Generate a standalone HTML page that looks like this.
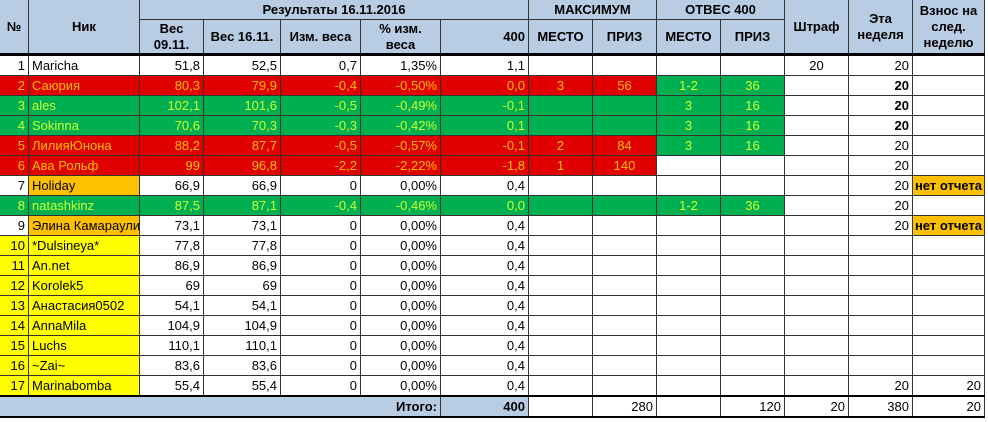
<!DOCTYPE html>
<html><head><meta charset="utf-8"><style>
body{margin:0;width:988px;height:422px;background:#fff;overflow:hidden;font-family:"Liberation Sans","DejaVu Sans",sans-serif;}
#t{position:absolute;left:0;top:0;width:988px;height:422px;}
.c{position:absolute;box-sizing:border-box;border-right:1px solid #333;border-bottom:1px solid #333;font-size:13px;line-height:19px;white-space:nowrap;overflow:hidden;padding:0 3px;}
.h{background:#b8cce4;font-weight:bold;text-align:center;display:flex;align-items:center;justify-content:center;line-height:16px;white-space:normal;}
.r{text-align:right}.l{text-align:left}.m{text-align:center}
</style></head><body>
<div id="t"></div>
<script>
const colX=[0,29,140,204,281,361,441,529,593,657,721,785,849,913,985];
const nums=["1","2","3","4","5","6","7","8","9","10","11","12","13","14","15","16","17"];
const nicks=["Maricha","Саюрия","ales","Sokinna","ЛилияЮнона","Ава Рольф","Holiday","natashkinz","Элина Камараули","*Dulsineya*","An.net","Korolek5","Анастасия0502","AnnaMila","Luchs","~Zai~","Marinabomba"];
const w1=["51,8","80,3","102,1","70,6","88,2","99","66,9","87,5","73,1","77,8","86,9","69","54,1","104,9","110,1","83,6","55,4"];
const w2=["52,5","79,9","101,6","70,3","87,7","96,8","66,9","87,1","73,1","77,8","86,9","69","54,1","104,9","110,1","83,6","55,4"];
const dw=["0,7","-0,4","-0,5","-0,3","-0,5","-2,2","0","-0,4","0","0","0","0","0","0","0","0","0"];
const pw=["1,35%","-0,50%","-0,49%","-0,42%","-0,57%","-2,22%","0,00%","-0,46%","0,00%","0,00%","0,00%","0,00%","0,00%","0,00%","0,00%","0,00%","0,00%"];
const v400=["1,1","0,0","-0,1","0,1","-0,1","-1,8","0,4","0,0","0,4","0,4","0,4","0,4","0,4","0,4","0,4","0,4","0,4"];
const maxPlace=["","3","","","2","1","","","","","","","","","","",""];
const maxPrize=["","56","","","84","140","","","","","","","","","","",""];
const otvPlace=["","1-2","3","3","3","","","1-2","","","","","","","","",""];
const otvPrize=["","36","16","16","16","","","36","","","","","","","","",""];
const fine=["20","","","","","","","","","","","","","","","",""];
const week=["20","20","20","20","20","20","20","20","20","","","","","","","","20"];
const next=["","","","","","","нет отчета","","нет отчета","","","","","","","",""];
const status=["w","r","g","g","r","r","o","g","o","y","y","y","y","y","y","y","y"];
const T=document.getElementById('t');
function cell(x1,x2,y,h,txt,cls,bg,col,name){
 const d=document.createElement('div');
 d.className='c '+cls;
 d.style.left=colX[x1]+'px';d.style.top=y+'px';
 d.style.width=(colX[x2]-colX[x1])+'px';d.style.height=h+'px';
 if(bg)d.style.background=bg;if(col)d.style.color=col;
 d.textContent=txt;
 
 
 T.appendChild(d);return d;
}
const HB='#b8cce4';
cell(0,1,0,55,'№','h',null,null,'header-number');
cell(1,2,0,55,'Ник','h',null,null,'header-nick');
cell(2,7,0,20,'Результаты 16.11.2016','h',null,null,'header-results');
cell(7,9,0,20,'МАКСИМУМ','h',null,null,'header-maximum');
cell(9,11,0,20,'ОТВЕС 400','h',null,null,'header-otves');
cell(11,12,0,55,'Штраф','h',null,null,'header-fine');
cell(12,13,0,55,'Эта неделя','h',null,null,'header-this-week');
cell(13,14,0,55,'Взнос на след. неделю','h',null,null,'header-next-fee');
const sub=['Вес 09.11.','Вес 16.11.','Изм. веса','% изм. веса','400','МЕСТО','ПРИЗ','МЕСТО','ПРИЗ'];
sub.forEach((s,i)=>{const d=cell(2+i,3+i,20,35,s,'h',null,null,'header-sub-'+i);if(i==4){d.style.justifyContent='flex-end';}});
const thick=document.createElement('div');thick.style.cssText='position:absolute;left:0;top:53px;width:985px;height:3px;background:#000';
T.appendChild(thick);
const RED='#e00000',GRN='#00b050',YEL='#ffff00',ORG='#ffc000';
for(let i=0;i<17;i++){
 const y=56+i*20,s=status[i];
 let bg=null,col='#000',bg2=null,col2=null,bg3=null,col3=null;
 if(s=='r'){bg=RED;col=ORG;}
 if(s=='g'){bg=GRN;col='#ccff33';}
 const nb=s=='y'?YEL:bg, nbn=(s=='o'||s=='y')?(s=='o'?ORG:YEL):bg;
 cell(0,1,y,20,nums[i],'r',nb,col,'row-'+(i+1)+'-number');
 cell(1,2,y,20,nicks[i],'l',nbn,col,'row-'+(i+1)+'-nick');
 [w1,w2,dw,pw,v400].forEach((a,j)=>cell(2+j,3+j,y,20,a[i],'r',bg,col,'row-'+(i+1)+'-col'+j));
 cell(7,8,y,20,maxPlace[i],'m',bg,col,'row-'+(i+1)+'-max-place');
 cell(8,9,y,20,maxPrize[i],'m',bg,col,'row-'+(i+1)+'-max-prize');
 const og=otvPlace[i]?GRN:(s=='g'?GRN:null);
 cell(9,10,y,20,otvPlace[i],'m',og,og?'#ccff33':null,'row-'+(i+1)+'-otves-place');
 cell(10,11,y,20,otvPrize[i],'m',og,og?'#ccff33':null,'row-'+(i+1)+'-otves-prize');
 cell(11,12,y,20,fine[i],'m',null,null,'row-'+(i+1)+'-fine');
 const wk=cell(12,13,y,20,week[i],'r',null,null,'row-'+(i+1)+'-week');
 if(i>=1&&i<=3)wk.style.fontWeight='bold';
 const nx=cell(13,14,y,20,next[i],i==16?'r':'m',next[i]?ORG:null,null,'row-'+(i+1)+'-next');
 if(i==16)nx.textContent='20';
 if(next[i]){nx.style.fontWeight='bold';nx.style.padding='0 1px';}
}
const thick2=document.createElement('div');thick2.style.cssText='position:absolute;left:0;top:395px;width:985px;height:2px;background:#000';
T.appendChild(thick2);
const ty=397;
const tl=cell(0,6,ty,20,'Итого:','r',HB,null,'total-label');tl.style.fontWeight='bold';
const tv=cell(6,7,ty,20,'400','r',HB,null,'total-400');tv.style.fontWeight='bold';
cell(7,8,ty,20,'','r',null,null,'total-max-place');
cell(8,9,ty,20,'280','r',null,null,'total-max-prize');
cell(9,10,ty,20,'','r',null,null,'total-otves-place');
cell(10,11,ty,20,'120','r',null,null,'total-otves-prize');
cell(11,12,ty,20,'20','r',null,null,'total-fine');
cell(12,13,ty,20,'380','r',null,null,'total-week');
cell(13,14,ty,20,'20','r',null,null,'total-next');
const thick3=document.createElement('div');thick3.style.cssText='position:absolute;left:0;top:416px;width:985px;height:2px;background:#000';
T.appendChild(thick3);
</script>
</body></html>
